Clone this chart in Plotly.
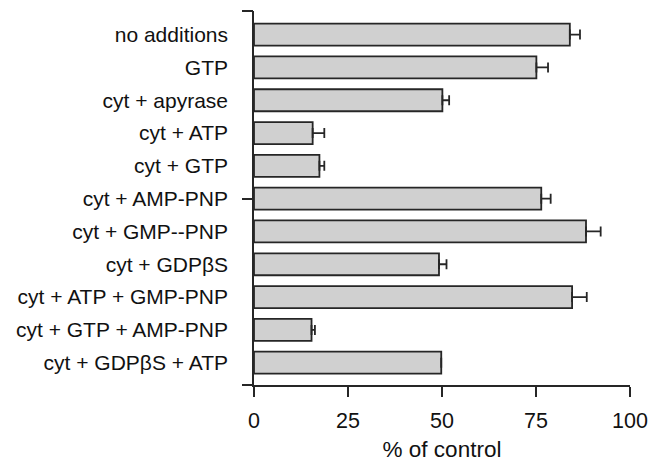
import plotly.graph_objects as go

categories = ["no additions", "GTP", "cyt + apyrase", "cyt + ATP", "cyt + GTP",
              "cyt + AMP-PNP", "cyt + GMP--PNP", "cyt + GDPβS",
              "cyt + ATP + GMP-PNP", "cyt + GTP + AMP-PNP", "cyt + GDPβS + ATP"]
values = [84.0, 75.1, 50.1, 15.6, 17.4, 76.4, 88.3, 49.2, 84.6, 15.3, 49.8]
errors = [2.7, 3.1, 1.8, 3.1, 1.3, 2.5, 3.9, 2.0, 3.9, 0.9, 0.0]
x_ticks = [0, 25, 50, 75, 100]

positions = list(range(len(categories)))
y_range = [10.68, -0.72]
y_ticks_marks = [y_range[1], 5, y_range[0]]

font_family = "Liberation Sans, Arial, Helvetica, sans-serif"
ink = "#262626"

fig = go.Figure()
fig.add_trace(go.Bar(
    x=values, y=positions, orientation="h", width=0.67,
    marker=dict(color="#d0d0d0", line=dict(color=ink, width=1.8)),
    error_x=dict(type="data", array=errors, arrayminus=[0] * len(errors),
                 symmetric=False, color=ink, thickness=1.8, width=5),
    showlegend=False,
))
fig.add_trace(go.Scatter(x=[None], y=[None], yaxis="y2", showlegend=False))

fig.update_layout(
    width=666, height=471,
    margin=dict(l=254, r=36, t=11, b=86),
    plot_bgcolor="white", paper_bgcolor="white",
    font=dict(family=font_family, size=20, color="#111111"),
    xaxis=dict(range=[0, 100], tickvals=x_ticks, ticks="outside", ticklen=10,
               tickwidth=1.6, tickcolor=ink, showline=True, linecolor=ink,
               linewidth=1.6, showgrid=False, zeroline=False,
               ticklabelstandoff=5,
               title=dict(text="% of control", standoff=10,
                          font=dict(size=22.5)),
               tickfont=dict(size=21.5)),
    yaxis=dict(range=y_range, tickvals=positions, ticktext=categories,
               ticks="", showline=True, linecolor=ink, linewidth=1.6,
               showgrid=False, zeroline=False, ticklabelstandoff=20,
               tickfont=dict(size=21)),
    yaxis2=dict(range=y_range, overlaying="y", side="left",
                tickvals=y_ticks_marks, ticks="outside", ticklen=11,
                tickwidth=1.6, tickcolor=ink, showticklabels=False,
                showline=False, showgrid=False, zeroline=False),
)

fig.write_html("out.html")
